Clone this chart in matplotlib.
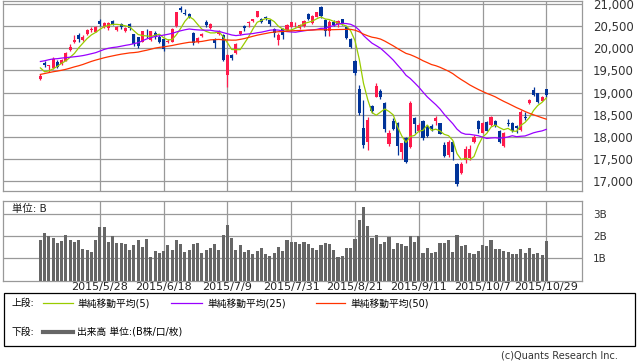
import numpy as np
import pandas as pd
import matplotlib
matplotlib.use("Agg")
import matplotlib.pyplot as plt
from matplotlib.lines import Line2D
from matplotlib.patches import Rectangle

plt.rcParams['font.family'] = ['DejaVu Sans', 'Noto Sans CJK JP']

# 日付 (2015)
dates = ["5/8", "5/11", "5/12", "5/13", "5/14", "5/15", "5/18", "5/19", "5/20", "5/21",
         "5/22", "5/25", "5/26", "5/27", "5/28", "5/29",
         "6/1", "6/2", "6/3", "6/4", "6/5", "6/8", "6/9", "6/10", "6/11", "6/12", "6/15",
         "6/16", "6/17", "6/18", "6/19", "6/22", "6/23", "6/24", "6/25", "6/26", "6/29", "6/30",
         "7/1", "7/2", "7/3", "7/6", "7/7", "7/8", "7/9", "7/10", "7/13", "7/14", "7/15",
         "7/16", "7/17", "7/21", "7/22", "7/23", "7/24", "7/27", "7/28", "7/29", "7/30", "7/31",
         "8/3", "8/4", "8/5", "8/6", "8/7", "8/10", "8/11", "8/12", "8/13", "8/14", "8/17",
         "8/18", "8/19", "8/20", "8/21", "8/24", "8/25", "8/26", "8/27", "8/28", "8/31",
         "9/1", "9/2", "9/3", "9/4", "9/7", "9/8", "9/9", "9/10", "9/11", "9/14", "9/15",
         "9/16", "9/17", "9/18", "9/24", "9/25", "9/28", "9/29", "9/30",
         "10/1", "10/2", "10/5", "10/6", "10/7", "10/8", "10/9", "10/13", "10/14", "10/15",
         "10/16", "10/19", "10/20", "10/21", "10/22", "10/23", "10/26", "10/27", "10/28", "10/29"]

opens = [19297, 19659, 19610, 19546, 19697, 19644, 19720, 19955, 20140, 20290,
         20180, 20330, 20420, 20375, 20616, 20470, 20450, 20610, 20410, 20548,
         20380, 20548, 20315, 20250, 20150, 20420, 20186, 20352, 20260, 20201,
         20140, 20149, 20503, 20902, 20800, 20770, 20338, 20149, 20280, 20585,
         20450, 20201, 20330, 20299, 19395, 19840, 19900, 20320, 20500, 20560,
         20620, 20714, 20660, 20700, 20630, 20430, 20180, 20430, 20412, 20490,
         20540, 20460, 20500, 20775, 20565, 20714, 20930, 20638, 20380, 20600,
         20550, 20653, 20488, 20201, 19719, 19070, 18190, 17889, 18695, 18906,
         19041, 18770, 17836, 18364, 18318, 17663, 17964, 17760, 18416, 18130,
         18356, 18227, 18250, 18356, 18303, 17813, 17587, 17889, 17384, 17173,
         17474, 17512, 17889, 18363, 18092, 18341, 18265, 18356, 18137, 17791,
         18320, 18318, 18250, 18152, 18440, 18755, 19056, 18981, 18815, 19070]
highs = [19418, 19712, 19630, 19810, 19735, 19760, 19923, 20100, 20300, 20340,
         20290, 20430, 20480, 20500, 20653, 20600, 20600, 20640, 20510, 20560,
         20480, 20560, 20330, 20260, 20390, 20430, 20397, 20380, 20290, 20230,
         20210, 20450, 20830, 20955, 20890, 20800, 20360, 20262, 20340, 20640,
         20560, 20240, 20420, 20330, 19870, 19870, 20110, 20400, 20530, 20620,
         20660, 20850, 20680, 20720, 20650, 20450, 20340, 20450, 20550, 20600,
         20590, 20540, 20630, 20790, 20760, 20830, 20946, 20660, 20640, 20640,
         20640, 20670, 20500, 20224, 19735, 19170, 18830, 18454, 18720, 19207,
         19070, 18790, 18150, 18420, 18340, 17870, 18002, 18815, 18440, 18300,
         18380, 18260, 18280, 18470, 18320, 17890, 17930, 17910, 17414, 17440,
         17780, 17810, 18040, 18370, 18341, 18360, 18460, 18370, 18150, 18100,
         18390, 18330, 18270, 18600, 18570, 18860, 19116, 18990, 18910, 19080]
lows = [19282, 19584, 19470, 19523, 19546, 19620, 19712, 19930, 20126, 20150,
        20160, 20310, 20375, 20360, 20503, 20450, 20420, 20530, 20400, 20440,
        20370, 20420, 20058, 20010, 20140, 20240, 20171, 20220, 20110, 19940,
        20120, 20130, 20490, 20827, 20760, 20690, 20080, 20111, 20250, 20490,
        20440, 19998, 20310, 19710, 19115, 19740, 19880, 20300, 20400, 20490,
        20600, 20700, 20560, 20640, 20510, 20262, 20073, 20200, 20390, 20470,
        20480, 20440, 20480, 20640, 20550, 20700, 20690, 20280, 20280, 20500,
        20480, 20530, 20200, 19998, 19400, 18490, 17750, 17700, 18530, 18890,
        18850, 18100, 17800, 18150, 17588, 17490, 17399, 17740, 18077, 18100,
        17930, 17990, 18130, 18270, 18060, 17550, 17550, 17470, 16887, 17150,
        17400, 17470, 17870, 18090, 18080, 18140, 18250, 18220, 17850, 17760,
        18240, 18110, 18090, 18140, 18378, 18740, 18930, 18760, 18800, 18900]
closes = [19379, 19620, 19624, 19764, 19570, 19732, 19890, 20026, 20196, 20202,
          20264, 20413, 20437, 20473, 20551, 20563, 20569, 20543, 20473, 20488,
          20460, 20457, 20096, 20046, 20382, 20407, 20387, 20257, 20150, 19975,
          20174, 20428, 20809, 20868, 20771, 20706, 20109, 20235, 20329, 20522,
          20539, 20112, 20376, 19737, 19855, 19779, 20089, 20385, 20463, 20600,
          20650, 20841, 20593, 20683, 20544, 20350, 20303, 20302, 20522, 20585,
          20548, 20520, 20614, 20664, 20724, 20808, 20720, 20392, 20595, 20519,
          20620, 20554, 20222, 20033, 19435, 18540, 17806, 18376, 18574, 19136,
          18890, 18165, 18095, 18182, 17792, 17860, 17427, 18770, 18299, 18264,
          17965, 18026, 18171, 18432, 18070, 17571, 17880, 17645, 16930, 17388,
          17722, 17725, 18005, 18186, 18322, 18141, 18438, 18234, 17891, 18096,
          18291, 18131, 18207, 18554, 18435, 18825, 18947, 18777, 18903, 18936]

# 出来高 (B)
volume = [1.82, 2.13, 2.00, 1.91, 1.69, 1.78, 2.05, 1.82, 1.73, 1.82,
          1.43, 1.37, 1.30, 1.82, 2.42, 2.42, 1.73, 2.00, 1.69, 1.69,
          1.65, 1.37, 1.60, 1.82, 1.51, 1.88, 1.06, 1.33, 1.24, 1.33,
          1.60, 1.37, 1.82, 1.65, 1.28, 1.37, 1.65, 1.69, 1.24, 1.37,
          1.46, 1.65, 1.37, 2.05, 2.50, 1.91, 1.37, 1.60, 1.28, 1.37,
          1.19, 1.33, 1.46, 1.19, 1.10, 1.24, 1.51, 1.33, 1.82, 1.73,
          1.73, 1.65, 1.73, 1.65, 1.46, 1.37, 1.60, 1.67, 1.63, 1.37,
          1.07, 1.10, 1.48, 1.48, 1.87, 2.73, 3.29, 2.45, 1.93, 2.05,
          1.64, 1.73, 1.96, 1.42, 1.69, 1.64, 1.55, 2.00, 1.73, 2.00,
          1.24, 1.46, 1.24, 1.28, 1.69, 1.69, 1.82, 1.28, 2.05, 1.55,
          1.60, 1.24, 1.19, 1.33, 1.60, 1.55, 1.82, 1.42, 1.42, 1.33,
          1.28, 1.19, 1.19, 1.42, 1.24, 1.46, 1.19, 1.24, 1.15, 1.78]

# 表示期間より前の終値 (移動平均の計算用, 2/24 - 5/7)
prev_close = [18603, 18585, 18785, 18797,
              18826, 18815, 18703, 18751, 18971, 18790, 18665, 18723, 18991, 19254,
              19246, 19437, 19544, 19476, 19560, 19754, 19713, 19746, 19471, 19285,
              19411, 19206,
              19034, 19312, 19435, 19397, 19640, 19789, 19937, 19907, 19905, 19908,
              19869, 19885, 19652, 19634, 19909, 20133, 20187, 20020, 19983, 20058,
              19520, 19531, 19291]

tick_dates = ["2015/5/28", "2015/6/18", "2015/7/9", "2015/7/31",
              "2015/8/21", "2015/9/11", "2015/10/7", "2015/10/29"]
price_ticks = [17000, 17500, 18000, 18500, 19000, 19500, 20000, 20500, 21000]
vol_ticks = [1, 2, 3]
vol_labels = ["1B", "2B", "3B"]
ma_specs = [(5, "#99cc00", "単純移動平均(5)"),
            (25, "#9900ff", "単純移動平均(25)"),
            (50, "#ff3300", "単純移動平均(50)")]

UP = "#ff1a4b"
DOWN = "#003399"
GRID = "#999999"

W, H = 638, 362
fig = plt.figure(figsize=(W / 100, H / 100), dpi=100)


def fx(px):
    return px / W


def fy(py):
    return 1 - py / H


ax = fig.add_axes([fx(3), fy(190.7), fx(579), (190.7 - 0.5) / H])
axv = fig.add_axes([fx(3), fy(280.5), fx(579), (280.5 - 201) / H])

n = len(dates)
x = np.arange(n)
o = np.array(opens, float)
c = np.array(closes, float)
hi = np.array(highs, float)
lo = np.array(lows, float)
cols = [UP if cc >= oo else DOWN for oo, cc in zip(o, c)]

# 移動平均
allc = pd.Series(prev_close + closes, dtype=float)
for period, col, _ in ma_specs:
    ma = allc.rolling(period).mean().values[-n:]
    ax.plot(x, ma, color=col, lw=0.9, zorder=4)

# ローソク足
ax.vlines(x, lo, hi, colors=cols, lw=0.9, zorder=3)
body = np.where(np.abs(c - o) < 15, 15, np.abs(c - o))
ax.bar(x, body, bottom=np.minimum(o, c), width=0.72, color=cols, lw=0, zorder=3)

# 出来高
axv.bar(x, volume, width=0.72, color="#666666", lw=0, zorder=3)

tick_pos = [dates.index(t[5:]) for t in tick_dates]

for a in (ax, axv):
    a.set_xlim(-8.8, 127.4)
    a.set_xticks(tick_pos)
    a.grid(True, color=GRID, lw=0.9)
    a.set_axisbelow(True)
    a.yaxis.tick_right()
    for s in a.spines.values():
        s.set_color(GRID)
        s.set_linewidth(0.9)

ax.set_ylim(16781, 21079)
ax.set_yticks(price_ticks)
ax.set_yticklabels([f"{v:,}" for v in price_ticks])
ax.tick_params(axis="y", length=0, pad=8, labelsize=8.5, labelcolor="#333333")
ax.tick_params(axis="x", length=0, labelbottom=False)

axv.set_ylim(0, 3.58)
axv.set_yticks(vol_ticks)
axv.set_yticklabels(vol_labels)
axv.tick_params(axis="y", length=0, pad=8, labelsize=7.5, labelcolor="#333333")
axv.set_xticklabels(tick_dates)
axv.tick_params(axis="x", length=0, pad=1, labelsize=8, labelcolor="#222222")

fig.text(fx(12), fy(208.5), "単位: B", fontsize=7.5, va="center", ha="left", color="#222222")

# 凡例
fig.add_artist(Rectangle((fx(4), fy(346)), fx(631), (346 - 293) / H, transform=fig.transFigure,
                         fill=False, edgecolor="#000000", lw=0.9))
row1, row2 = 303, 332
fig.text(fx(11), fy(row1), "上段:", fontsize=7, va="center", ha="left")
lx = [(43, 73, 77), (171, 202, 207), (316, 345, 350)]
for (x0, x1, tx), (_, col, lab) in zip(lx, ma_specs):
    fig.add_artist(Line2D([fx(x0), fx(x1)], [fy(row1), fy(row1)], color=col, lw=0.9,
                          transform=fig.transFigure))
    fig.text(fx(tx), fy(row1), lab, fontsize=7, va="center", ha="left")
fig.text(fx(11), fy(row2), "下段:", fontsize=7, va="center", ha="left")
fig.add_artist(Line2D([fx(43), fx(73)], [fy(row2), fy(row2)], color="#666666", lw=3,
                      transform=fig.transFigure))
fig.text(fx(77), fy(row2), "出来高 単位:(B株/口/枚)", fontsize=7, va="center", ha="left")

fig.text(fx(618), fy(356), "(c)Quants Research Inc.", fontsize=7, va="center", ha="right",
         color="#333333")

fig.savefig("out.png", dpi=100)
